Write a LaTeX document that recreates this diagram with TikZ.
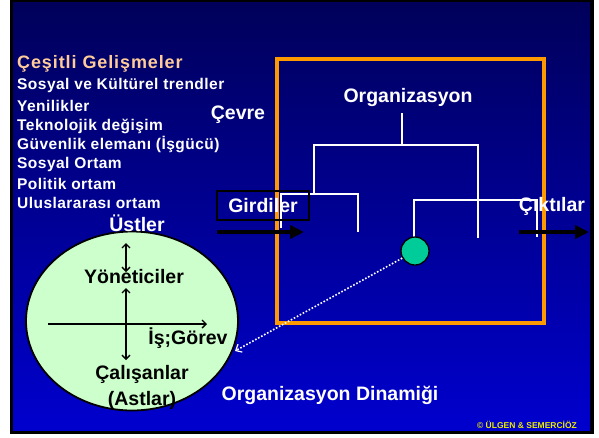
\documentclass[tikz,border=0pt]{standalone}
\usepackage{fontspec}
\setmainfont{Liberation Sans}
\newfontfamily\listfont[LetterSpace=3]{Liberation Sans}
\newfontfamily\headfont[LetterSpace=5]{Liberation Sans}
\usetikzlibrary{arrows.meta,shapes.geometric}
\definecolor{bgtop}{RGB}{0,0,90}
\definecolor{bgmid}{RGB}{0,0,165}
\definecolor{bgbot}{RGB}{0,0,206}
\definecolor{orgorange}{RGB}{255,153,0}
\definecolor{peach}{RGB}{255,204,153}
\definecolor{palegreen}{RGB}{204,255,204}
\definecolor{dotteal}{RGB}{0,204,153}
\definecolor{copyyellow}{RGB}{235,235,0}
\begin{document}
\begin{tikzpicture}[x=1pt,y=-1pt,
  bigtxt/.style={font=\bfseries\fontsize{19.5}{22}\selectfont, inner sep=0pt},
  wtxt/.style={bigtxt, text=white},
  btxt/.style={bigtxt, text=black},
  listtxt/.style={font=\listfont\bfseries\fontsize{15.5}{18}\selectfont, text=white, inner sep=0pt, anchor=west},
  tree/.style={white, line width=1.5pt},
  bigarrow/.style={black, line width=4pt, -{Triangle[length=14pt,width=13pt]}},
  axis/.style={black, line width=1.4pt, >={Straight Barb[length=4pt,width=8pt]}}
]
\useasboundingbox (0,0) rectangle (599,437);
\fill[white] (0,0) rectangle (599,437);
\fill[black] (10,0) rectangle (594,434);
\shade[top color=bgtop, middle color=bgmid, bottom color=bgbot] (13,2) rectangle (590,430);

% organisation frame
\draw[orgorange, line width=3.5pt] (277,59) rectangle (544,323);

% left list
\node[listtxt, text=peach, font=\headfont\bfseries\fontsize{18}{20}\selectfont] (h0) at (17,64) {Çeşitli Gelişmeler};
\node[listtxt] (l1) at (17,85) {Sosyal ve Kültürel trendler};
\node[listtxt] (l2) at (17,106) {Yenilikler};
\node[listtxt] (l3) at (17,126) {Teknolojik değişim};
\node[listtxt] (l4) at (17,144) {Güvenlik elemanı (İşgücü)};
\node[listtxt] (l5) at (17,164) {Sosyal Ortam};
\node[listtxt] (l6) at (17,184) {Politik ortam};
\node[listtxt] (l7) at (17,203) {Uluslararası ortam};

\node[wtxt] (cevre) at (238,115) {Çevre};

% tree
\node[wtxt] (org) at (408,97) {Organizasyon};
\coordinate (t0) at (402,113);
\coordinate (t1) at (402,145);
\draw[tree] (t0) -- (t1);
\draw[tree] (314,194) -- (314,145) -- (478,145) -- (478,238);
\draw[tree] (281,228) -- (281,194) -- (358,194) -- (358,232);
\draw[tree] (414,238) -- (414,200) -- (537,200) -- (537,237);

% inputs / outputs
\node[wtxt, draw=black, line width=2pt, minimum width=92pt, minimum height=29pt] (gird) at (263,205.5) {Girdiler};
\coordinate (ga) at (217,232);
\coordinate (gb) at (304,232);
\draw[bigarrow] (ga) -- (gb);
\node[wtxt] (cikt) at (552,206) {Çıktılar};
\coordinate (ca) at (519,232);
\coordinate (cb) at (589,232);
\draw[bigarrow] (ca) -- (cb);

% ellipse
\node[ellipse, draw=black, fill=palegreen, line width=1.8pt, minimum width=212pt, minimum height=179pt, inner sep=0pt] (ell) at (132,321) {};
\node[wtxt] (ust) at (137,223) {Üstler};
\coordinate (h1) at (48,324);
\coordinate (h2) at (207,324);
\draw[axis, ->] (h1) -- (h2);
\coordinate (v1) at (126,243);
\coordinate (v2) at (126,272);
\draw[axis, <->] (v1) -- (v2);
\coordinate (v3) at (126,288);
\coordinate (v4) at (126,360);
\draw[axis, <->] (v3) -- (v4);
\node[btxt] (yon) at (134,277) {Yöneticiler};
\node[btxt] (gor) at (188,338) {İş;Görev};
\node[btxt] (cal) at (142,374) {Çalışanlar};
\node[btxt] (ast) at (142,400) {(Astlar)};

% green dot and dotted link
\node[circle, draw=black, fill=dotteal, line width=1.3pt, minimum size=28pt, inner sep=0pt] (dot) at (415,251) {};
\coordinate (dend) at (235,351);
\draw[white, line width=1.6pt, dash pattern=on 1.6pt off 1.8pt, -{Straight Barb[length=5pt,width=9pt,line width=1.2pt]}] (dot) -- (dend);

\node[wtxt] (dyn) at (330,395) {Organizasyon Dinamiği};
\node[font=\bfseries\fontsize{8.5}{10}\selectfont, text=copyyellow, inner sep=0pt] (copy) at (527,425) {© ÜLGEN \& SEMERCİÖZ};
\end{tikzpicture}
\end{document}
